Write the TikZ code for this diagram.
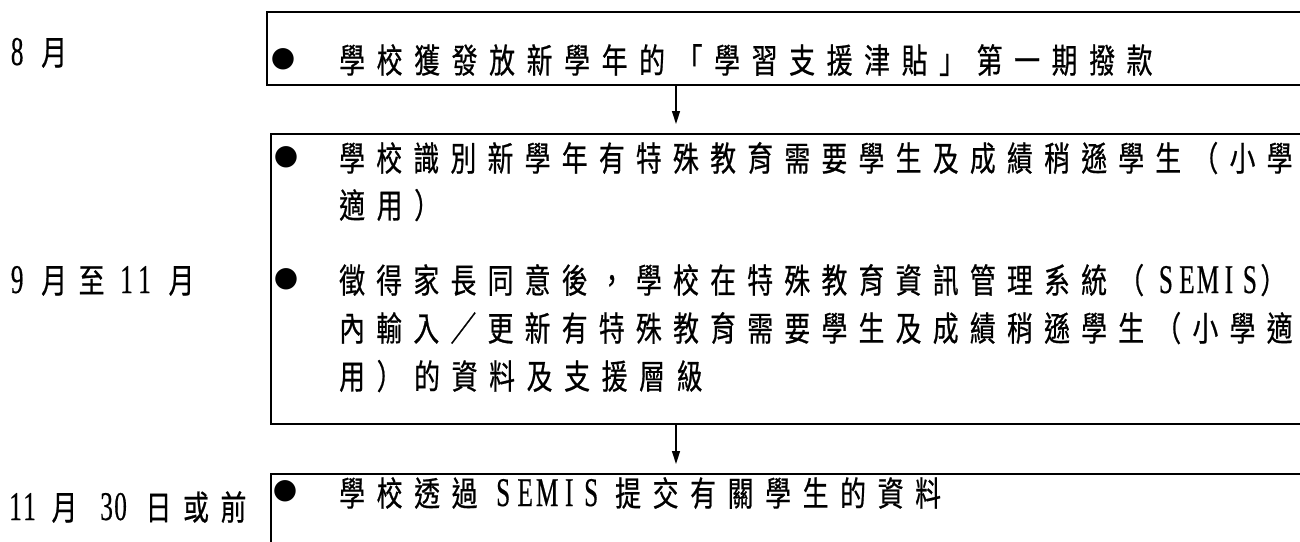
\documentclass[tikz,border=0pt]{standalone}
\usepackage{fontspec}
\usetikzlibrary{arrows.meta}
\newfontfamily\cjkf{Noto Sans CJK TC}[FakeStretch=0.76,FakeBold=0.6]
\newfontfamily\latf{Liberation Serif}[FakeStretch=0.62,Scale=1.2,FakeBold=0.4]
\newfontfamily\bulf{DejaVu Sans}
\newlength\sxfp \newlength\sxhp \newlength\sxsw \newlength\sxsb \newlength\sxsc
\def\sxset#1#2#3#4#5{\setlength\sxfp{#1pt}\setlength\sxhp{#2pt}\setlength\sxsw{#3pt}\setlength\sxsb{#4pt}\setlength\sxsc{#5pt}}
\newcommand\sxstop{}
\def\sx#1{\sxloop#1\sxstop}
\def\sxloop#1{\ifx#1\sxstop\else\sxchar#1\expandafter\sxloop\fi}
\def\sxchar#1{%
  \ifx~#1\hskip\sxsw\else
  \ifx|#1\hskip\sxsb\else
  \ifx!#1\hskip\sxsc\else
  \ifnum`#1<128 \hbox to\sxhp{\hss\latf #1\hss}\else
  \hbox to\sxfp{\cjkf #1\hss}\fi\fi\fi\fi}
\tikzset{
  box/.style={draw, line width=2.8pt, anchor=north west, inner sep=0pt, outer sep=0pt, minimum width=1100pt},
  txt/.style={anchor=base west, inner sep=0pt, font=\fontsize{34}{34}\selectfont},
  bul/.style={anchor=center, inner sep=0pt, font=\bulf\fontsize{28}{28}\selectfont},
  arr/.style={line width=1.4pt, -{Triangle[length=13pt,width=8pt]}, shorten >=10pt}
}
\begin{document}
\begin{tikzpicture}[x=1pt,y=-1pt]
\useasboundingbox (0,0) rectangle (1300,541);
\clip (0,0) rectangle (1300,541);
% boxes
\node[box, minimum height=73pt] (b1) at (267,12) {};
\node[box, minimum height=290pt] (b2) at (271,134) {};
\node[box, minimum height=120pt] (b3) at (271,474) {};
\coordinate (ax) at (676,0);
\draw[arr] (b1.south -| ax) -- (b2.north -| ax);
\draw[arr] (b2.south -| ax) -- (b3.north -| ax);
% labels
\node[txt] (l1) at (10,65) {\sxset{37.5}{14}{17}{0}{0}\sx{8~月}};
\node[txt] (l2) at (8,293) {\sxset{37.5}{18}{15}{1.4}{0}\sx{9~月至|11~月}};
\node[txt] (l3) at (8.4,520) {\sxset{37.5}{14}{15}{10.5}{18}\sx{11~月|30!日或前}};
% bullets
\node[bul] (u1) at (283,59) {●};
\node[bul] (u2) at (286,157) {●};
\node[bul] (u3) at (286,279) {●};
\node[bul] (u4) at (285,491) {●};
% box 1
\node[txt] (t1) at (339,73) {\sxset{37.5}{22}{0}{0}{0}\sx{學校獲發放新學年的「學習支援津貼」第一期撥款}};
% box 2
\node[txt] (t2) at (339,171) {\sxset{37.1}{22}{0}{0}{0}\sx{學校識別新學年有特殊教育需要學生及成績稍遜學生（小學}};
\node[txt] (t3) at (339,218) {\sxset{37.5}{22}{0}{0}{0}\sx{適用）}};
\node[txt] (t4) at (339,293) {\sxset{37.1}{21}{0}{0}{0}\sx{徵得家長同意後，學校在特殊教育資訊管理系統（SEMIS）}};
\node[txt] (t5) at (339,341) {\sxset{37.1}{22}{0}{0}{0}\sx{內輸入／更新有特殊教育需要學生及成績稍遜學生（小學適}};
\node[txt] (t6) at (339,389) {\sxset{37.5}{22}{0}{0}{0}\sx{用）的資料及支援層級}};
% box 3
\node[txt] (t7) at (339,506) {\sxset{37.5}{22}{3}{13}{0}\sx{學校透過~SEMIS|提交有關學生的資料}};
\end{tikzpicture}
\end{document}
